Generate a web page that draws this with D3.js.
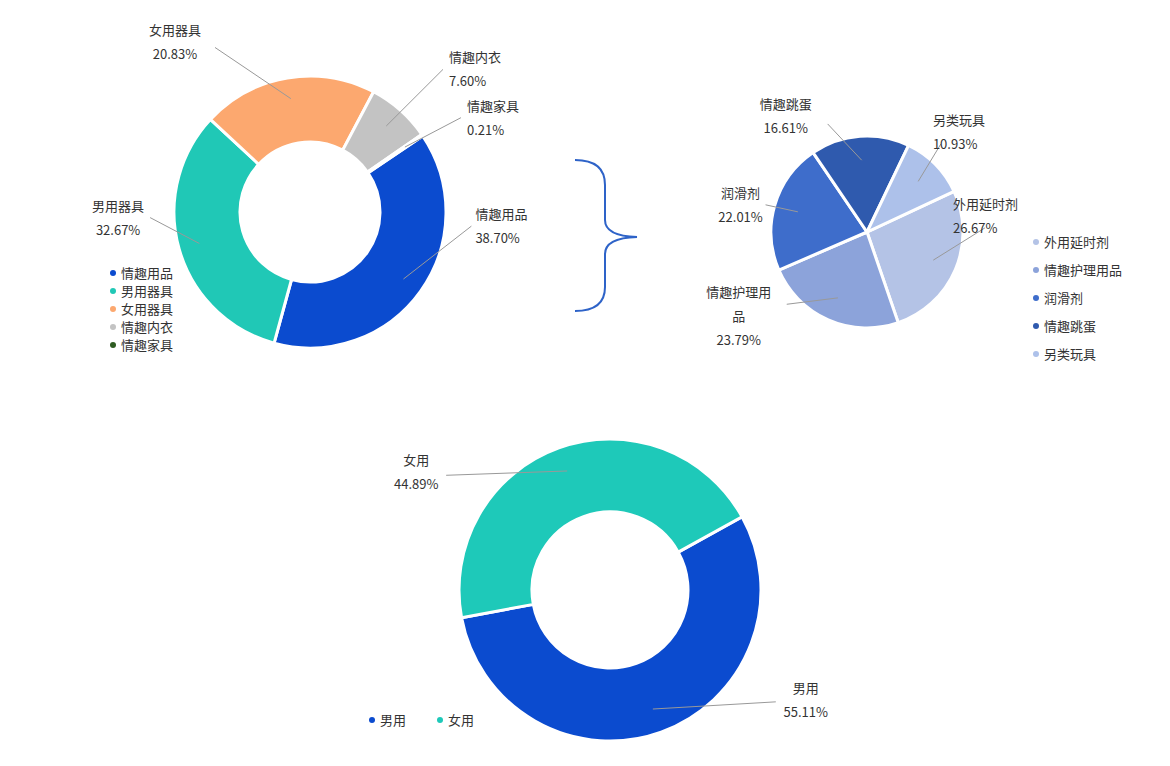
<!DOCTYPE html>
<html><head><meta charset="utf-8">
<script src="https://cdn.jsdelivr.net/npm/d3@7"></script>
<style>body{margin:0;background:#fff}text{font-family:"Noto Sans CJK SC","Noto Sans",sans-serif;fill:#333}</style>
</head><body>
<svg id="c" width="1170" height="766"></svg>
<script>
// data
const cat1 = ['情趣用品','男用器具','女用器具','情趣内衣','情趣家具']
const val1 = [38.70, 32.67, 20.83, 7.60, 0.21]
const col1 = ['#0b4bcf','#20c8b6','#fca86f','#c3c3c3','#2e5c22']

const cat2 = ['外用延时剂','情趣护理用品','润滑剂','情趣跳蛋','另类玩具']
const val2 = [26.67, 23.79, 22.01, 16.61, 10.93]
const col2 = ['#b4c3e6','#8ca3da','#3e6dcb','#2f5aae','#adc1ea']

const cat3 = ['男用','女用']
const val3 = [55.11, 44.89]
const col3 = ['#0b4bcf','#1ec9b9']

const svg = d3.select('#c')
const rad = d => d * Math.PI / 180

function drawPie(o) {
  const g = svg.append('g').attr('transform', `translate(${o.cx},${o.cy})`)
  const pie = d3.pie().sort(null).startAngle(rad(o.start)).endAngle(rad(o.start + 360))
  const arcs = pie(o.vals)
  const arc = d3.arc().innerRadius(o.ri).outerRadius(o.r)
  g.selectAll('path').data(arcs).enter().append('path')
    .attr('d', arc).attr('fill', (d, i) => o.cols[i])
    .attr('stroke', '#fff').attr('stroke-width', 3)
  arcs.forEach((d, i) => {
    const a = (d.startAngle + d.endAngle) / 2
    const r0 = o.ri ? (o.ri + o.r) / 2 + 12 : o.r * 0.75
    const p0 = [Math.sin(a) * r0, -Math.cos(a) * r0]
    const la = rad(o.lab[i][0]), ld = o.lab[i][1]
    const p1 = [Math.sin(la) * ld, -Math.cos(la) * ld]
    const right = Math.sin(la) >= 0
    g.append('polyline').attr('points', [p0, p1].map(p => p.join(',')).join(' '))
      .attr('fill', 'none').attr('stroke', '#999').attr('stroke-width', 1)
    const off = o.off && o.off[i] ? o.off[i] : [right ? 4 : -4, 0]
    const x = p1[0] + off[0]
    const t = g.append('text').attr('font-size', 13)
      .attr('text-anchor', o.anchor && o.anchor[i] ? o.anchor[i] : (right ? 'start' : 'end'))
      .attr('x', x).attr('y', p1[1] - 7 + off[1])
    const lines = o.cats[i].length > 5 ? [o.cats[i].slice(0, 5), o.cats[i].slice(5)] : [o.cats[i]]
    lines.concat([o.vals[i].toFixed(2) + '%']).forEach((s, k) =>
      t.append('tspan').attr('x', x).attr('dy', k ? 24 : 0).text(s))
  })
}

drawPie({cx: 310, cy: 212, r: 136, ri: 70, start: 56, vals: val1, cats: cat1, cols: col1,
  lab: [[95, 162], [268, 160], [330, 190], [43, 195], [58, 178]],
  anchor: [null, 'middle', 'middle', null, null],
  off: [null, [-32, 0], [-40, -5], [6, 0], [6, 0]]})
drawPie({cx: 867, cy: 232, r: 96, ri: 0, start: 65, vals: val2, cats: cat2, cols: col2,
  lab: [[88, 118], [228, 108], [285, 105], [340, 115], [40, 115]],
  anchor: [null, 'middle', 'middle', 'middle', null],
  off: [[-32, -12], [-48, 0], [-25, 0], [-42, -8], [-8, -12]]})
drawPie({cx: 610, cy: 590, r: 151, ri: 78, start: 61, vals: val3, cats: cat3, cols: col3,
  lab: [[124, 200], [305, 200]],
  anchor: ['middle', 'middle'],
  off: [[30, -2], [-30, -3]]})

// legends
function legend(x, y, cats, cols, dy, dx) {
  cats.forEach((c, i) => {
    const g = svg.append('g').attr('transform', `translate(${x + i * (dx || 0)},${y + i * (dy || 0)})`)
    g.append('circle').attr('r', 3).attr('fill', cols[i])
    g.append('text').attr('x', 8).attr('y', 5).attr('font-size', 13).text(c)
  })
}
legend(113, 273, cat1, col1, 18)
legend(1036, 242, cat2, col2, 28)
legend(372, 720, cat3, col3, 0, 68)

// bracket
svg.append('path')
  .attr('d', 'M575,160 Q605,160 605,185 L605,220 Q605,236 637,237 Q605,238 605,254 L605,287 Q605,311 575,311')
  .attr('fill', 'none').attr('stroke', '#2e63c8').attr('stroke-width', 2)
</script>
</body></html>
